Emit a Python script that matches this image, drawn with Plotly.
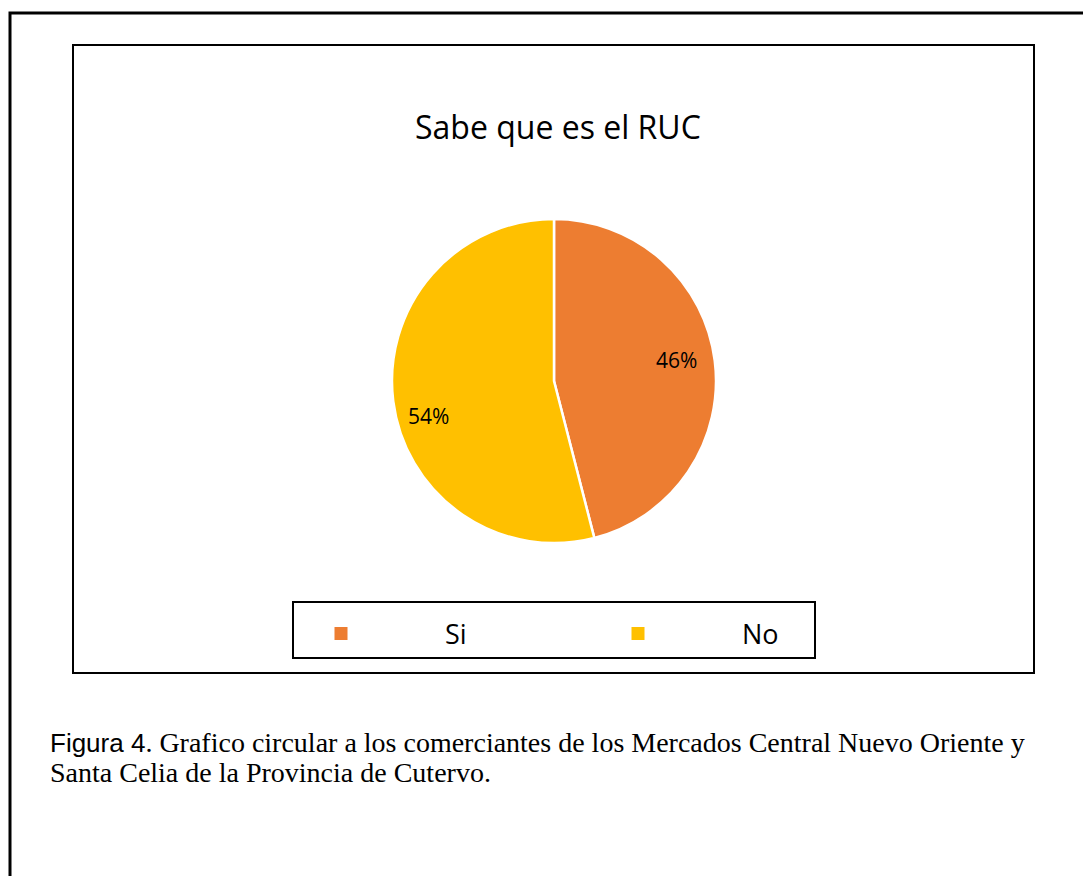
import math
import plotly.graph_objects as go

labels = ["Si", "No"]
values = [46, 54]
colors = ["#ED7D31", "#FFC000"]
title_text = "Sabe que es el RUC"
caption_line1 = ("<span style='font-family:Liberation Sans, Arial; font-size:26px'>Figura 4</span>. "
                 "Grafico circular a los comerciantes de los Mercados Central Nuevo Oriente y")
caption_line2 = "Santa Celia de la Provincia de Cutervo."

W, H = 1083, 876

def px(x):
    return x / W

def py(y):
    return 1 - y / H

cx, cy, r = 554, 381, 162
# label placement style (radius fraction, angular nudge in degrees) per slice
label_radius = [0.765, 0.805]
label_nudge = [-2.6, -8.3]

fig = go.Figure()
fig.add_trace(go.Pie(
    labels=labels,
    values=values,
    sort=False,
    direction="clockwise",
    rotation=0,
    marker=dict(colors=colors, line=dict(color="white", width=2.5)),
    textinfo="none",
    showlegend=False,
    domain=dict(x=[px(cx - r), px(cx + r)], y=[py(cy + r), py(cy - r)]),
    hoverinfo="label+percent",
))

# legend entries (square keys like the original), one per category
for lab, col in zip(labels, colors):
    fig.add_trace(go.Scatter(
        x=[None], y=[None], mode="markers", name=lab,
        marker=dict(symbol="square", size=13, color=col, line=dict(width=0)),
        showlegend=True, hoverinfo="skip",
    ))

# percentage labels placed around each slice's mid-angle (computed from the values)
annotations = []
total = sum(values)
cum = 0
for i, v in enumerate(values):
    mid = math.radians((cum + v / 2) / total * 360 + label_nudge[i])
    cum += v
    lx = cx + label_radius[i] * r * math.sin(mid)
    ly = cy - label_radius[i] * r * math.cos(mid)
    annotations.append(dict(text=f"{round(100 * v / total)}%", x=px(lx), y=py(ly),
                            xref="paper", yref="paper", showarrow=False,
                            xanchor="center", yanchor="middle",
                            font=dict(family="Open Sans", size=21, color="#000000")))

shapes = [
    dict(type="rect", xref="paper", yref="paper", x0=px(10), x1=px(1095), y0=py(13), y1=py(900),
         line=dict(color="black", width=3)),
    dict(type="rect", xref="paper", yref="paper", x0=px(73), x1=px(1034), y0=py(45), y1=py(673),
         line=dict(color="black", width=2)),
    dict(type="rect", xref="paper", yref="paper", x0=px(293), x1=px(815), y0=py(602), y1=py(658),
         line=dict(color="black", width=2)),
]

annotations += [
    dict(text=title_text, x=px(558), y=py(127), xref="paper", yref="paper", showarrow=False,
         xanchor="center", yanchor="middle", font=dict(family="Open Sans", size=32, color="#000000")),
    dict(text=caption_line1, x=px(48), y=py(742), xref="paper", yref="paper", showarrow=False,
         xanchor="left", yanchor="middle", font=dict(family="Liberation Serif", size=28, color="#000000")),
    dict(text=caption_line2, x=px(48), y=py(772), xref="paper", yref="paper", showarrow=False,
         xanchor="left", yanchor="middle", font=dict(family="Liberation Serif", size=28, color="#000000")),
]

fig.update_layout(
    width=W, height=H,
    margin=dict(l=0, r=0, t=0, b=0),
    paper_bgcolor="white",
    plot_bgcolor="rgba(0,0,0,0)",
    xaxis=dict(visible=False, showgrid=False, zeroline=False),
    yaxis=dict(visible=False, showgrid=False, zeroline=False),
    shapes=shapes,
    annotations=annotations,
    showlegend=True,
    legend=dict(
        orientation="h",
        x=px(237), y=py(634), xanchor="left", yanchor="middle",
        entrywidth=84, entrywidthmode="pixels",
        itemwidth=198,
        font=dict(family="Open Sans", size=27, color="#000000"),
        bgcolor="rgba(0,0,0,0)",
        borderwidth=0,
    ),
)

fig.write_html("out.html", config={"displayModeBar": False},
               post_script="document.body.style.margin='0';")
